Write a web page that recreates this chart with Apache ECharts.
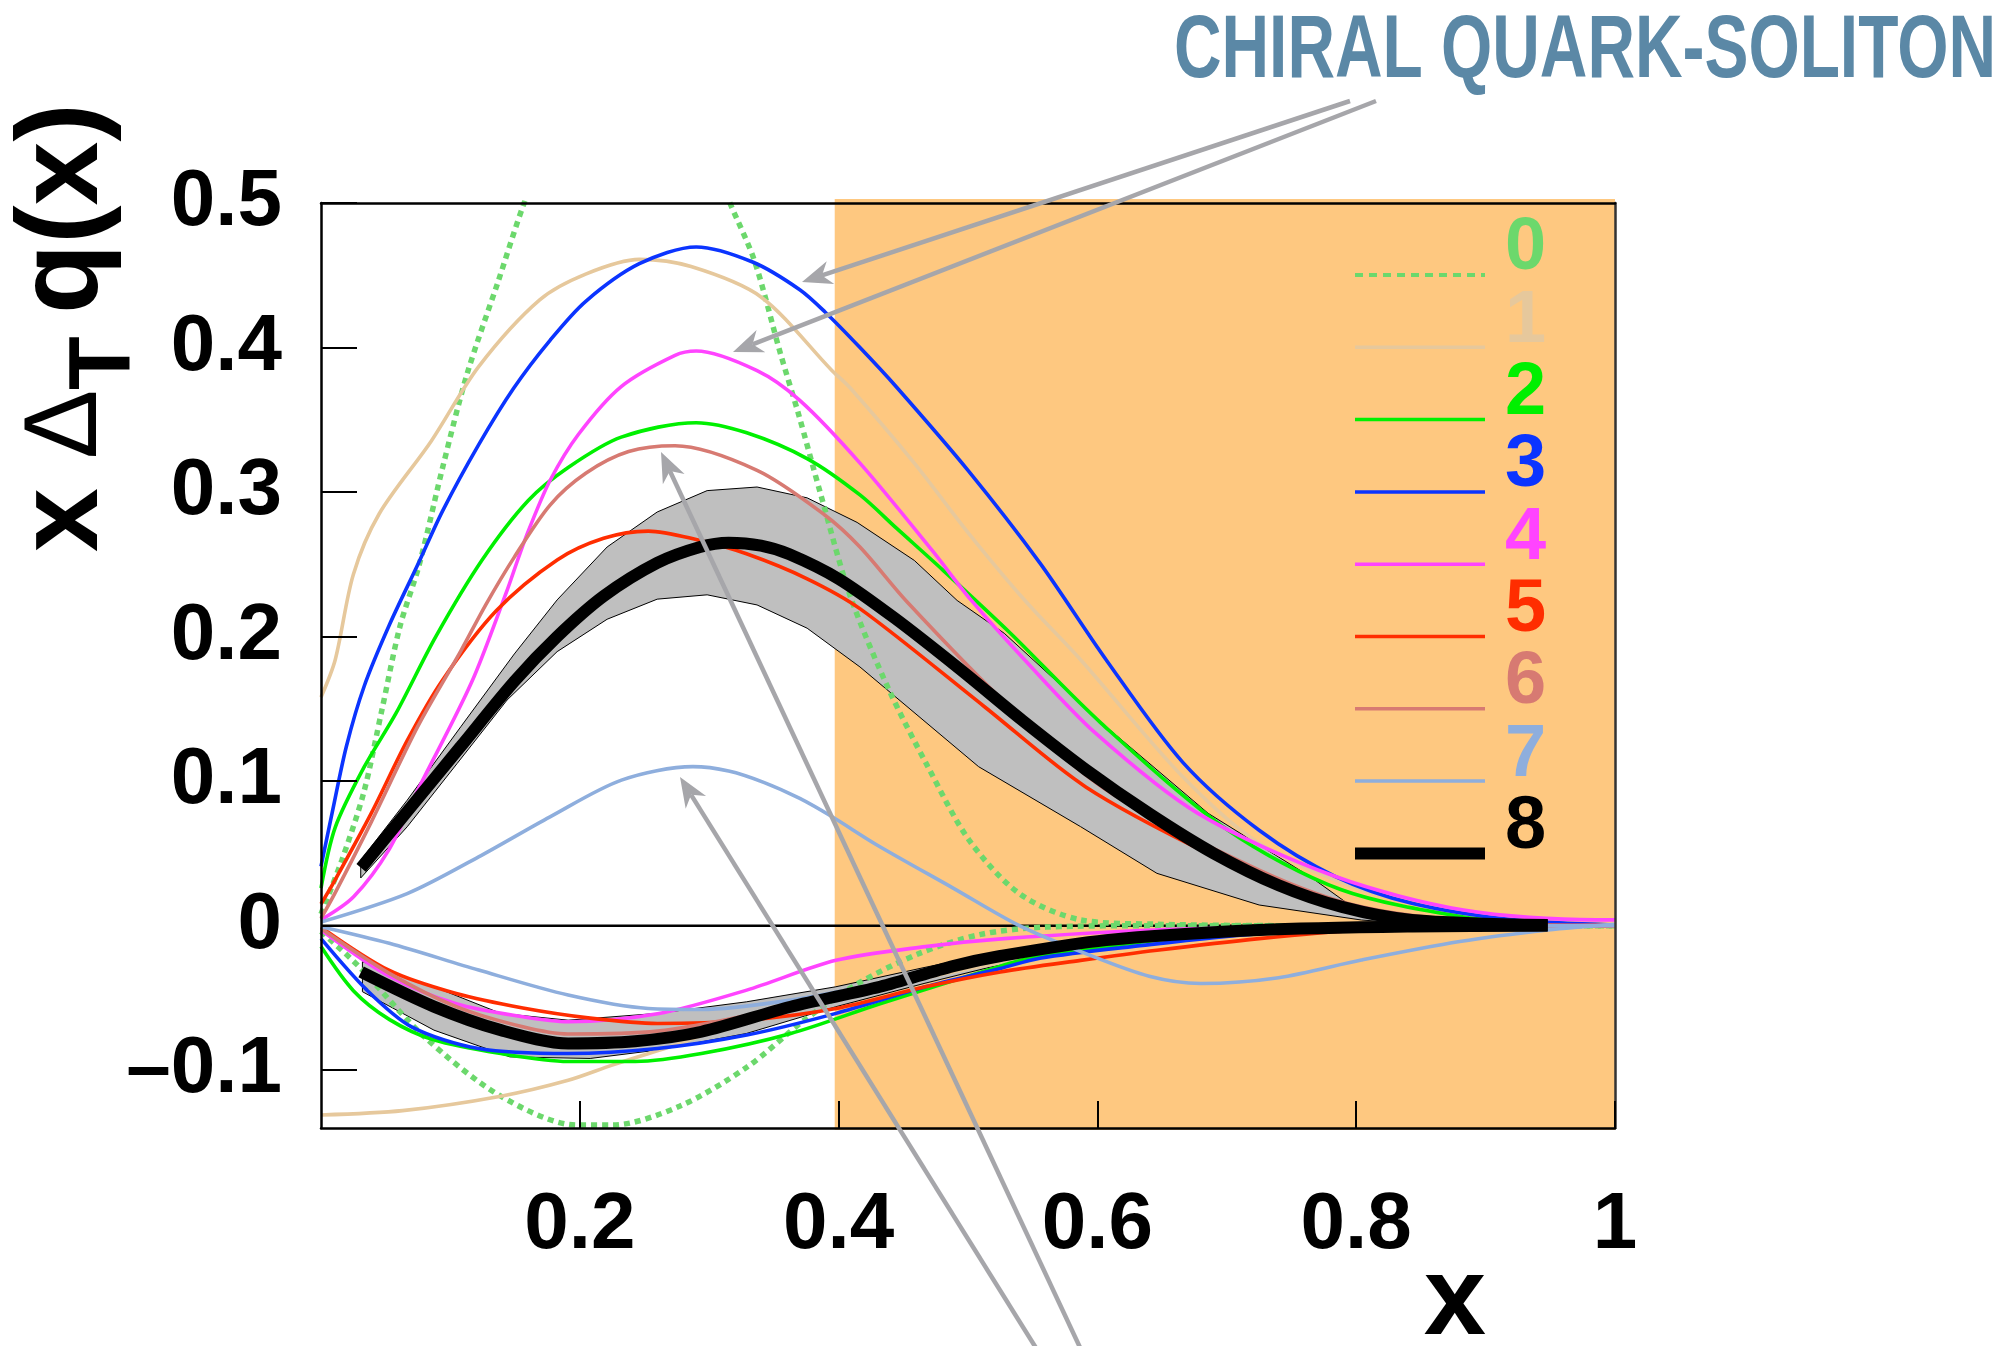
<!DOCTYPE html>
<html>
<head>
<meta charset="utf-8">
<title>Chiral quark-soliton transversity</title>
<script src="https://cdn.jsdelivr.net/npm/echarts@6.0.0/dist/echarts.min.js"></script>
<style>
  html, body { margin: 0; padding: 0; background: #fff; }
  #chart { width: 2005px; height: 1346px; }
</style>
</head>
<body>
<div id="chart"></div>
<script>
// axis ranges and tick labels
const xMin = 0, xMax = 1;
const yMin = -0.14, yMax = 0.5;
const xTicks = [0.2, 0.4, 0.6, 0.8, 1];
const yTicks = [-0.1, 0, 0.1, 0.2, 0.3, 0.4, 0.5];
const shadedRange = [0.397, 1];
const legendNames = ['0', '1', '2', '3', '4', '5', '6', '7', '8'];

// curves: u = positive branch, d = negative branch
const u0 = [[0,0.008],[0.016,0.045],[0.033,0.092],[0.047,0.149],[0.061,0.207],[0.076,0.25],[0.094,0.317],[0.113,0.382],[0.137,0.446],[0.157,0.5],[0.18,0.55],[0.205,0.59],[0.235,0.605],[0.265,0.59],[0.293,0.55],[0.316,0.5],[0.335,0.46],[0.355,0.396],[0.369,0.354],[0.386,0.299],[0.409,0.228],[0.439,0.163],[0.469,0.11],[0.501,0.059],[0.54,0.022],[0.587,0.004],[0.646,0.001],[0.75,0],[1,0]];
const d0 = [[0,-0.004],[0.029,-0.028],[0.08,-0.077],[0.139,-0.118],[0.198,-0.138],[0.225,-0.138],[0.277,-0.125],[0.329,-0.098],[0.374,-0.065],[0.415,-0.04],[0.463,-0.019],[0.51,-0.006],[0.56,-0.001],[0.65,0],[1,0]];
const u1 = [[0,0.158],[0.011,0.184],[0.025,0.243],[0.045,0.285],[0.085,0.335],[0.122,0.387],[0.169,0.433],[0.205,0.451],[0.246,0.461],[0.286,0.456],[0.34,0.435],[0.395,0.384],[0.409,0.372],[0.4585,0.32],[0.5,0.272],[0.544,0.225],[0.587,0.184],[0.666,0.103],[0.725,0.057],[0.804,0.025],[0.883,0.009],[0.95,0.002],[1,0]];
const d1 = [[0,-0.131],[0.063,-0.128],[0.139,-0.118],[0.191,-0.107],[0.225,-0.0965],[0.277,-0.0815],[0.311,-0.07],[0.36,-0.058],[0.42,-0.045],[0.5,-0.03],[0.6,-0.014],[0.7,-0.005],[0.8,-0.001],[1,0]];
const u2 = [[0,0.026],[0.011,0.068],[0.0335,0.11],[0.058,0.147],[0.0887,0.2],[0.1245,0.253],[0.16,0.294],[0.191,0.317],[0.232,0.338],[0.29,0.348],[0.329,0.341],[0.376,0.323],[0.4165,0.298],[0.4447,0.275],[0.4806,0.246],[0.532,0.203],[0.603,0.14],[0.701,0.066],[0.788,0.025],[0.883,0.006],[0.95,0.001],[1,0]];
const d2 = [[0,-0.0145],[0.025,-0.045],[0.053,-0.065],[0.087,-0.079],[0.139,-0.0885],[0.191,-0.094],[0.243,-0.094],[0.294,-0.0885],[0.363,-0.0746],[0.432,-0.054],[0.525,-0.028],[0.55,-0.022],[0.646,-0.01],[0.725,-0.004],[0.85,-0.001],[1,0]];
const u3 = [[0,0.041],[0.0086,0.078],[0.0196,0.124],[0.0335,0.166],[0.0528,0.208],[0.0749,0.25],[0.094,0.287],[0.122,0.333],[0.149,0.372],[0.177,0.405],[0.2046,0.432],[0.246,0.458],[0.29,0.4696],[0.334,0.459],[0.37,0.44],[0.3895,0.4246],[0.4165,0.4],[0.4447,0.3727],[0.5,0.315],[0.5555,0.251],[0.6067,0.184],[0.666,0.113],[0.725,0.066],[0.784,0.034],[0.843,0.0155],[0.922,0.004],[1,0.0005]];
const d3 = [[0,-0.009],[0.0355,-0.0446],[0.07,-0.07],[0.1218,-0.085],[0.191,-0.0885],[0.26,-0.085],[0.329,-0.0757],[0.398,-0.0607],[0.467,-0.0423],[0.525,-0.0296],[0.5555,-0.0225],[0.6265,-0.0145],[0.725,-0.0055],[0.843,-0.0015],[1,0]];
const u4 = [[0,0.004],[0.0252,0.02],[0.0528,0.053],[0.0749,0.094],[0.1162,0.168],[0.1438,0.232],[0.152,0.253],[0.1604,0.2735],[0.177,0.308],[0.199,0.34],[0.232,0.373],[0.2736,0.3946],[0.29,0.3976],[0.337,0.384],[0.37,0.3634],[0.4165,0.32],[0.4723,0.2596],[0.5026,0.225],[0.5437,0.184],[0.5988,0.133],[0.6777,0.0777],[0.784,0.034],[0.883,0.0108],[0.985,0.004],[1,0.004]];
const d4 = [[0,-0.003],[0.0528,-0.035],[0.1045,-0.054],[0.156,-0.063],[0.191,-0.0665],[0.26,-0.061],[0.329,-0.0446],[0.398,-0.024],[0.467,-0.0145],[0.528,-0.009],[0.645,-0.003],[0.8,-0.0005],[1,0]];
const u5 = [[0,0.015],[0.0105,0.031],[0.039,0.078],[0.0666,0.128],[0.094,0.17],[0.1356,0.218],[0.1825,0.253],[0.2184,0.268],[0.2529,0.273],[0.2906,0.267],[0.3288,0.2573],[0.3757,0.24],[0.417,0.219],[0.512,0.152],[0.591,0.096],[0.6856,0.05],[0.7645,0.02],[0.843,0.005],[0.92,0.001],[1,0]];
const d5 = [[0,-0.001],[0.0528,-0.031],[0.1045,-0.047],[0.156,-0.057],[0.208,-0.064],[0.26,-0.0677],[0.329,-0.0654],[0.398,-0.0573],[0.467,-0.0423],[0.525,-0.032],[0.587,-0.024],[0.646,-0.017],[0.725,-0.009],[0.804,-0.003],[0.9,-0.0005],[1,0]];
const u6 = [[0,0.005],[0.0105,0.022],[0.039,0.072],[0.0749,0.138],[0.108,0.19],[0.1273,0.222],[0.1494,0.255],[0.177,0.291],[0.2046,0.313],[0.2377,0.328],[0.2736,0.332],[0.337,0.315],[0.3895,0.284],[0.4165,0.262],[0.453,0.224],[0.528,0.155],[0.6067,0.094],[0.725,0.0385],[0.804,0.013],[0.9,0.002],[1,0]];
const d6 = [[0,-0.002],[0.0528,-0.033],[0.1045,-0.056],[0.156,-0.07],[0.191,-0.075],[0.26,-0.073],[0.33,-0.062],[0.4,-0.047],[0.47,-0.033],[0.53,-0.022],[0.6,-0.012],[0.7,-0.005],[0.85,-0.001],[1,0]];
const u7 = [[0,0.0025],[0.0666,0.0222],[0.1218,0.0476],[0.177,0.0753],[0.2322,0.1007],[0.2874,0.11],[0.315,0.107],[0.3426,0.099],[0.37,0.088],[0.395,0.0753],[0.4293,0.056],[0.4885,0.026],[0.5397,0],[0.59,-0.019],[0.64,-0.035],[0.68,-0.04],[0.74,-0.036],[0.804,-0.0238],[0.88,-0.011],[0.948,-0.003],[1,0.001]];
const d7 = [[0,-0.0007],[0.0528,-0.0122],[0.1218,-0.0307],[0.191,-0.048],[0.2529,-0.0573],[0.294,-0.058],[0.363,-0.0515],[0.432,-0.04],[0.5247,-0.0238],[0.6,-0.012],[0.7,-0.004],[0.8,-0.001],[1,0]];
const u8 = [[0.031,0.04],[0.0666,0.079],[0.108,0.124],[0.1494,0.169],[0.1825,0.2],[0.2184,0.228],[0.2598,0.251],[0.2929,0.262],[0.315,0.265],[0.34,0.263],[0.362,0.257],[0.4,0.24],[0.443,0.213],[0.493,0.178],[0.542,0.142],[0.591,0.108],[0.641,0.077],[0.69,0.05],[0.74,0.028],[0.789,0.013],[0.843,0.004],[0.948,0.0005]];
const d8 = [[0.031,-0.032],[0.0873,-0.056],[0.139,-0.0723],[0.191,-0.0815],[0.2426,-0.08],[0.294,-0.0734],[0.363,-0.0561],[0.432,-0.0423],[0.4885,-0.028],[0.525,-0.021],[0.6067,-0.01],[0.725,-0.003],[0.843,-0.0005],[0.948,0]];

// uncertainty band of curve 8
const bandUpHigh = [[0.0307,0.0453],[0.0666,0.0868],[0.108,0.1376],[0.1494,0.188],[0.1825,0.2254],[0.2211,0.262],[0.2598,0.2862],[0.2984,0.301],[0.337,0.3035],[0.3757,0.296],[0.4143,0.279],[0.4585,0.2527],[0.4916,0.225],[0.528,0.2023],[0.6067,0.1377],[0.6856,0.0777],[0.7645,0.0339],[0.804,0.0085],[0.85,0.002]];
const bandUpLow = [[0.0307,0.033],[0.0666,0.0684],[0.1052,0.1122],[0.1438,0.1561],[0.1825,0.1896],[0.2211,0.212],[0.2598,0.2259],[0.2984,0.2289],[0.337,0.2219],[0.3757,0.2058],[0.4165,0.179],[0.5082,0.11],[0.587,0.0685],[0.646,0.0362],[0.725,0.0143],[0.804,0.0039],[0.85,0.001]];
const bandDownHigh = [[0.032,-0.0249],[0.0873,-0.0423],[0.139,-0.0607],[0.191,-0.0654],[0.2598,-0.0607],[0.3288,-0.0527],[0.3978,-0.0423],[0.466,-0.029],[0.525,-0.018],[0.6,-0.008],[0.7,-0.002],[0.8,0]];
const bandDownLow = [[0.032,-0.0457],[0.0873,-0.0723],[0.146,-0.0908],[0.208,-0.0919],[0.2598,-0.0861],[0.3288,-0.0746],[0.3978,-0.0561],[0.466,-0.04],[0.525,-0.027],[0.6,-0.014],[0.7,-0.005],[0.8,-0.001]];
const zeroLine = [[0,0],[1,0]];

const upper = [u0, u1, u2, u3, u4, u5, u6, u7, u8];
const lower = [d0, d1, d2, d3, d4, d5, d6, d7, d8];

const colors = ['#6cd86c', '#e6c89c', '#00f000', '#0b34ff', '#ff44ff', '#ff2d00', '#d77a72', '#8eaedd', '#000000'];
const widths = [5.5, 3.6, 3.6, 3.6, 3.6, 3.6, 3.6, 3.6, 12];
const legendWidths = [4, 3.5, 3.5, 3.5, 3.5, 3.5, 3.5, 3.5, 12];
const FONT = '"Liberation Sans", Arial, Helvetica, sans-serif';

const chart = echarts.init(document.getElementById('chart'), null, { renderer: 'canvas' });

function curveSeries(i, data) {
    return {
        name: legendNames[i],
        type: 'line',
        data: data,
        symbol: 'none',
        showSymbol: false,
        smooth: 0.3,
        silent: true,
        z: i === 8 ? 6 : 4,
        itemStyle: { color: colors[i] },
        lineStyle: {
            color: colors[i],
            width: widths[i],
            type: i === 0 ? [6, 5] : 'solid',
            cap: 'butt'
        }
    };
}

function bandSeries(hi, lo) {
    return {
        type: 'custom',
        silent: true,
        z: 3,
        data: [[0, 0]],
        renderItem: function (params, api) {
            const pts = hi.map(p => api.coord(p)).concat(lo.slice().reverse().map(p => api.coord(p)));
            return {
                type: 'polygon',
                shape: { points: pts },
                style: { fill: '#bfbfbf', stroke: '#000', lineWidth: 1 }
            };
        }
    };
}

const series = [];
// shaded x region
series.push({
    type: 'custom',
    silent: true,
    z: 1,
    data: [[0, 0]],
    renderItem: function (params, api) {
        const p0 = api.coord([shadedRange[0], yMax]);
        const p1 = api.coord([shadedRange[1], yMin]);
        return {
            type: 'rect',
            shape: { x: p0[0], y: p0[1] - 4, width: p1[0] - p0[0], height: p1[1] - p0[1] + 6 },
            style: { fill: '#fec880' }
        };
    }
});
series.push({
    type: 'line', data: zeroLine, symbol: 'none', silent: true, z: 2,
    lineStyle: { color: '#000', width: 2.5 }
});
series.push(bandSeries(bandUpHigh, bandUpLow));
series.push(bandSeries(bandDownHigh, bandDownLow));
for (let i = 0; i < 9; i++) {
    series.push(curveSeries(i, upper[i]));
    series.push(curveSeries(i, lower[i]));
}

const graphics = [];

// legend: line sample with its number above-right
const legendLeft = 1355, legendLineLen = 130, legendTop = 275, legendStep = 72.3;
legendNames.forEach((n, i) => {
    const y = legendTop + i * legendStep;
    graphics.push({
        type: 'line', z: 90, silent: true,
        shape: { x1: legendLeft, y1: y, x2: legendLeft + legendLineLen, y2: y },
        style: { stroke: colors[i], lineWidth: legendWidths[i], lineDash: i === 0 ? [8, 6] : null }
    });
    graphics.push({
        type: 'text', x: legendLeft + 150, y: y - 26, z: 90, silent: true,
        style: {
            text: n, fill: colors[i], font: 'bold 74px ' + FONT,
            align: 'left', verticalAlign: 'middle', textAlign: 'left', textVerticalAlign: 'middle'
        }
    });
});

// annotation arrows (pixel positions)
const arrows = [
    { from: [1350, 101], to: [802, 282] },
    { from: [1376, 101], to: [733, 352] },
    { from: [1084, 1356], to: [661, 452] },
    { from: [1041, 1356], to: [680, 777] }
];
const arrowColor = '#a6a6aa';
arrows.forEach(a => {
    const dx = a.to[0] - a.from[0], dy = a.to[1] - a.from[1];
    const len = Math.sqrt(dx * dx + dy * dy);
    const ux = dx / len, uy = dy / len, nx = -uy, ny = ux;
    const L = 30, W = 12, N = 9;
    const t = a.to;
    graphics.push({
        type: 'line', z: 100, silent: true,
        shape: { x1: a.from[0], y1: a.from[1], x2: t[0] - (L - N) * ux, y2: t[1] - (L - N) * uy },
        style: { stroke: arrowColor, lineWidth: 4.5 }
    });
    graphics.push({
        type: 'polygon', z: 100, silent: true,
        shape: { points: [
            [t[0], t[1]],
            [t[0] - L * ux + W * nx, t[1] - L * uy + W * ny],
            [t[0] - (L - N) * ux, t[1] - (L - N) * uy],
            [t[0] - L * ux - W * nx, t[1] - L * uy - W * ny]
        ] },
        style: { fill: arrowColor }
    });
});

// title
graphics.push({
    type: 'text', x: 1174, y: 52, scaleX: 0.74, z: 100, silent: true,
    style: {
        text: 'CHIRAL QUARK-SOLITON', fill: '#5b88a6',
        font: 'bold 89px ' + FONT,
        align: 'left', verticalAlign: 'middle', textAlign: 'left', textVerticalAlign: 'middle'
    }
});
// x axis title
graphics.push({
    type: 'text', x: 1455, y: 1303, z: 100, silent: true,
    style: {
        text: 'x', fill: '#000', font: 'bold 112px ' + FONT,
        align: 'center', verticalAlign: 'middle', textAlign: 'center', textVerticalAlign: 'middle'
    }
});
// y axis title, rotated
function yTitlePart(text, x, y, font) {
    return {
        type: 'text', x: x, y: y, z: 100, silent: true,
        style: { text: text, fill: '#000', font: font, align: 'left', verticalAlign: 'middle', textAlign: 'left', textVerticalAlign: 'middle' }
    };
}
graphics.push({
    type: 'group', x: 105, y: 552, rotation: Math.PI / 2, z: 100, silent: true,
    children: [
        yTitlePart('x', 0, -40, 'bold 115px ' + FONT),
        yTitlePart('\u0394', 93, -38, '104px ' + FONT),
        yTitlePart('T', 162, -0.5, 'bold 88px ' + FONT),
        yTitlePart('q(x)', 238, -40, 'bold 115px ' + FONT)
    ]
});

const labelFont = { color: '#000', fontFamily: FONT, fontWeight: 'bold', fontSize: 80 };

const option = {
    animation: false,
    backgroundColor: '#fff',
    grid: { left: 321, top: 203, width: 1294, height: 925, containLabel: false, outerBoundsMode: 'none' },
    xAxis: [{
        type: 'value', min: xMin, max: xMax, z: 10,
        axisLine: { show: true, onZero: false, lineStyle: { color: '#000', width: 2.5 } },
        axisTick: { show: true, inside: true, length: 27, customValues: xTicks, lineStyle: { color: '#000', width: 2 } },
        axisLabel: Object.assign({
            show: true, margin: 58, customValues: xTicks,
            formatter: v => (v === 1 ? '1' : Number(v).toFixed(1))
        }, labelFont),
        splitLine: { show: false }
    }, {
        type: 'value', min: xMin, max: xMax, position: 'top', z: 10,
        axisLine: { show: true, onZero: false, lineStyle: { color: '#000', width: 2.5 } },
        axisTick: { show: false }, axisLabel: { show: false }, splitLine: { show: false }
    }],
    yAxis: [{
        type: 'value', min: yMin, max: yMax, z: 10,
        axisLine: { show: true, onZero: false, lineStyle: { color: '#000', width: 2.5 } },
        axisTick: { show: true, inside: true, length: 36, customValues: yTicks, lineStyle: { color: '#000', width: 2 } },
        axisLabel: Object.assign({
            show: true, margin: 39, customValues: yTicks,
            formatter: v => (v === 0 ? '0' : (v < 0 ? '\u2013' + Math.abs(v).toFixed(1) : Number(v).toFixed(1)))
        }, labelFont),
        splitLine: { show: false }
    }, {
        type: 'value', min: yMin, max: yMax, position: 'right', z: 10,
        axisLine: { show: true, onZero: false, lineStyle: { color: '#333', width: 2.5 } },
        axisTick: { show: false }, axisLabel: { show: false }, splitLine: { show: false }
    }],
    graphic: { elements: graphics },
    series: series
};

chart.setOption(option);
</script>
</body>
</html>
